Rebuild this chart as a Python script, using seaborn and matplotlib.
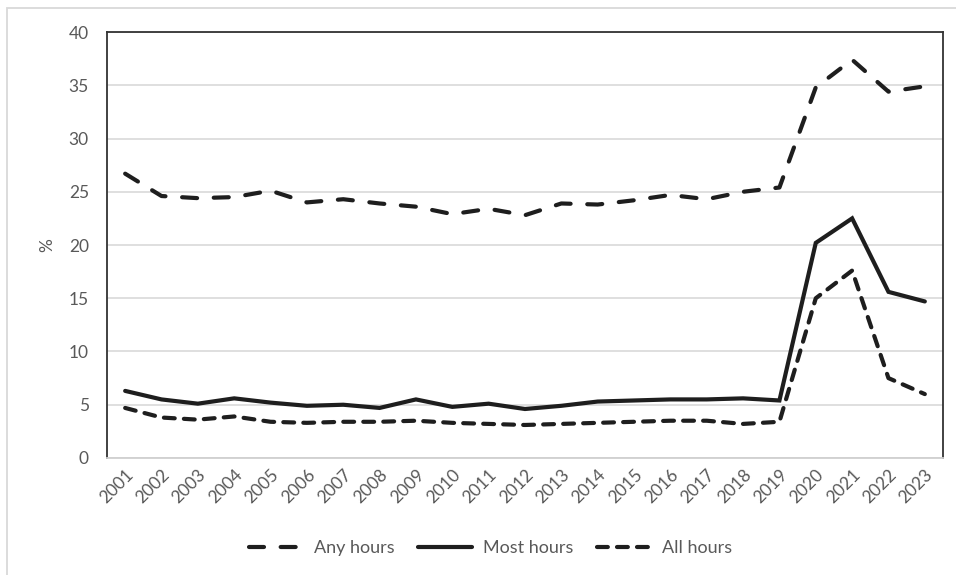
import pandas as pd
import matplotlib
matplotlib.use("Agg")
import matplotlib.pyplot as plt
import seaborn as sns
from matplotlib.patches import Rectangle

years = list(range(2001, 2024))
any_hours = [26.7, 24.6, 24.4, 24.5, 25.1, 24.0, 24.3, 23.9, 23.6, 22.9, 23.4, 22.8,
             23.9, 23.8, 24.2, 24.7, 24.3, 25.0, 25.4, 34.8, 37.4, 34.4, 34.9]
most_hours = [6.3, 5.5, 5.1, 5.6, 5.2, 4.9, 5.0, 4.7, 5.5, 4.8, 5.1, 4.6,
              4.9, 5.3, 5.4, 5.5, 5.5, 5.6, 5.4, 20.2, 22.5, 15.6, 14.7]
all_hours = [4.7, 3.8, 3.6, 3.9, 3.4, 3.3, 3.4, 3.4, 3.5, 3.3, 3.2, 3.1,
             3.2, 3.3, 3.4, 3.5, 3.5, 3.2, 3.4, 15.0, 17.6, 7.5, 6.0]
series_names = ["Any hours", "Most hours", "All hours"]

df = pd.DataFrame({"year": years, "Any hours": any_hours,
                   "Most hours": most_hours, "All hours": all_hours})
long = df.melt(id_vars="year", var_name="series", value_name="pct")

sns.set_style("white")
plt.rcParams["font.family"] = ["Lato", "DejaVu Sans"]

grey_txt = "#595959"
line_col = "#1e1e1e"

fig = plt.figure(figsize=(9.56, 5.75), dpi=100)
ax = fig.add_axes([0.1119, 0.2035, 0.8745, 0.7408])

# dash patterns are in units of the line width
sns.lineplot(data=long, x="year", y="pct", hue="series", style="series",
             hue_order=series_names, style_order=series_names,
             palette=[line_col] * 3,
             dashes={"Any hours": (3.6, 4.0), "Most hours": "",
                     "All hours": (2.6, 2.2)},
             linewidth=3.0, ax=ax, legend=False)
for ln in ax.get_lines():
    ln.set_dash_capstyle("round")
    ln.set_solid_joinstyle("miter")

ax.set_xlim(2000.5, 2023.5)
ax.set_ylim(0, 40)
ax.set_yticks(range(0, 41, 5))
ax.set_xticks(years)
ax.set_xticklabels([str(y) for y in years], rotation=45, ha="right",
                   rotation_mode="anchor", color=grey_txt, fontsize=12.5)
ax.tick_params(axis="y", colors=grey_txt, labelsize=12.5, length=0, pad=13)
ax.tick_params(axis="x", length=0, pad=6)
ax.grid(axis="y", color="#d9d9d9", linewidth=1.2)
ax.set_axisbelow(True)
ax.set_xlabel("")
ax.set_ylabel("%", color=grey_txt, fontsize=12.5, labelpad=10)

for side in ["left", "top", "right"]:
    ax.spines[side].set_color("#333333")
    ax.spines[side].set_linewidth(1.3)
ax.spines["bottom"].set_color("#d0d0d0")
ax.spines["bottom"].set_linewidth(1.3)

handles = ax.get_lines()[:3]
leg = fig.legend(handles, series_names, loc="center", ncol=3,
                 bbox_to_anchor=(0.513, 0.047), frameon=False, fontsize=13,
                 handlelength=3.0, handletextpad=0.6, columnspacing=1.3)
for t in leg.get_texts():
    t.set_color(grey_txt)

fig.patches.append(Rectangle((7 / 956, -0.01), 1.0, 1 - 8 / 575 + 0.01,
                             transform=fig.transFigure, fill=False,
                             edgecolor="#d9d9d9", linewidth=1.3))

fig.savefig("out.png", dpi=100)
